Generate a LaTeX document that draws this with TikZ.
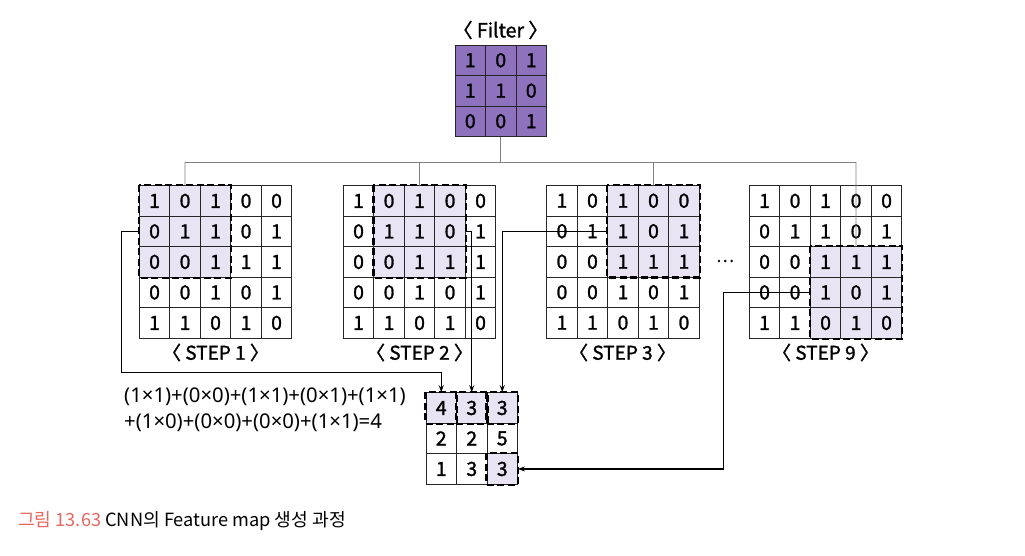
\documentclass[tikz,border=0pt]{standalone}
\usepackage{fontspec}
\setmainfont{Noto Sans CJK KR}
\newfontfamily\kr{Noto Sans CJK KR}
\newfontfamily\krm[FakeBold=1.4]{Noto Sans CJK KR}
\newfontfamily\lat{Noto Sans}
\usetikzlibrary{arrows.meta}
\definecolor{filt}{HTML}{8F72BE}
\definecolor{hl}{HTML}{E8E4F4}
\definecolor{capred}{HTML}{E5675F}
\definecolor{treegray}{HTML}{808080}
\tikzset{
  cell/.style={draw=black!85, line width=0.9pt, minimum size=30.5pt, inner sep=0pt, font=\krm\fontsize{19.5}{19.5}\selectfont},
  hlbox/.style={draw=black, line width=2.3pt, dash pattern=on 7pt off 3.5pt},
  tree/.style={draw=treegray, line width=0.7pt},
  conn/.style={draw=black, line width=1.1pt},
  arr/.style={conn, -{Stealth[length=7pt,width=5pt]}},
  lab/.style={font=\krm\fontsize{19}{19}\selectfont, inner sep=0pt},
  formula/.style={font=\lat\fontsize{20.3}{20.3}\selectfont, inner sep=0pt, anchor=west},
}
\newcommand\mygrid[4]{%
  \foreach \row [count=\r] in {#4} {%
    \foreach \v [count=\c] in \row {%
      \node[cell] (#1-\r-\c) at ({#2+(\c-0.5)*30.5},{#3+(\r-0.5)*30.5}) {\v};
    }%
  }%
}
\begin{document}
\begin{tikzpicture}[x=1pt,y=-1pt]
\useasboundingbox (0,0) rectangle (1025,556);
% filter
\fill[filt] (455,45) rectangle ++(91.5,91.5);
\mygrid{f}{455}{45}{{1,0,1},{1,1,0},{0,0,1}}
\node[lab, font=\krm\fontsize{19.5}{19.5}\selectfont] (filterlab) at (500.5,30) {〈 Filter 〉};
% highlight fills
\fill[hl] (139.3,185.7) rectangle ++(91.5,91.5);
\fill[hl] (373.8,185.7) rectangle ++(91.5,91.5);
\fill[hl] (607.7,185.5) rectangle ++(91.5,91.5);
\fill[hl] (810.3,246.7) rectangle ++(91.5,91.5);
\fill[hl] (426,392.7) rectangle ++(91.5,30.5);
\fill[hl] (487,453.7) rectangle ++(30.5,30.5);
% grids
\mygrid{sa}{139.3}{185.7}{{1,0,1,0,0},{0,1,1,0,1},{0,0,1,1,1},{0,0,1,0,1},{1,1,0,1,0}}
\mygrid{sb}{343.3}{185.7}{{1,0,1,0,0},{0,1,1,0,1},{0,0,1,1,1},{0,0,1,0,1},{1,1,0,1,0}}
\mygrid{sc}{546.7}{185.5}{{1,0,1,0,0},{0,1,1,0,1},{0,0,1,1,1},{0,0,1,0,1},{1,1,0,1,0}}
\mygrid{sd}{749.3}{185.7}{{1,0,1,0,0},{0,1,1,0,1},{0,0,1,1,1},{0,0,1,0,1},{1,1,0,1,0}}
\mygrid{r}{426}{392.7}{{4,3,3},{2,2,5},{1,3,3}}
% dashed windows
\draw[hlbox] (sa-1-1.north west) rectangle (sa-3-3.south east);
\draw[hlbox] (sb-1-2.north west) rectangle (sb-3-4.south east);
\draw[hlbox] (sc-1-3.north west) rectangle (sc-3-5.south east);
\draw[hlbox] (sd-3-3.north west) rectangle (sd-5-5.south east);
\draw[hlbox] (r-1-1.north west) rectangle (r-1-1.south east);
\draw[hlbox] (r-1-2.north west) rectangle (r-1-2.south east);
\draw[hlbox] (r-1-3.north west) rectangle (r-1-3.south east);
\draw[hlbox] (r-3-3.north west) rectangle (r-3-3.south east);
% labels
\node[lab] (la) at (215.5,352.5) {〈 STEP 1 〉};
\node[lab] (lb) at (419.5,352.5) {〈 STEP 2 〉};
\node[lab] (lc) at (622.5,352.5) {〈 STEP 3 〉};
\node[lab] (ld) at (825.5,352.5) {〈 STEP 9 〉};
\node[lab, font=\krm\fontsize{17}{17}\selectfont] (dots) at (725,261) {…};
% tree
\coordinate (tj) at (500.75,162);
\draw[tree] (f-3-2.south) -- (tj);
\draw[tree] (185,162) -- (856,162);
\draw[tree] (185,162) -- (sa-1-2.north);
\draw[tree] (419.5,162) -- (sb-1-3.north);
\draw[tree] (653.5,162) -- (sc-1-4.north);
\draw[tree] (856,162) -- (sd-3-4.north);
% connectors
\draw[arr] (sa-2-1.west) -- ++(-17,0) |- ([yshift=20pt]r-1-1.north) -- (r-1-1.north);
\draw[arr] (sb-2-4.east) -| (r-1-2.north);
\draw[arr] (sc-2-3.west) -| (r-1-3.north);
\draw[arr] (sd-4-3.west) -- ++(-86,0) |- (r-3-3.east);
% formula
\node[formula] (fa) at (124,397) {(1×1)+(0×0)+(1×1)+(0×1)+(1×1)};
\node[formula] (fb) at (124,423) {+(1×0)+(0×0)+(0×0)+(1×1)=4};
% caption
\node[anchor=west, inner sep=0pt, font=\kr\fontsize{18.2}{18.2}\selectfont] (cap) at (18,521) {\textcolor{capred}{그림 13.63} CNN의 Feature map 생성 과정};
\end{tikzpicture}
\end{document}
